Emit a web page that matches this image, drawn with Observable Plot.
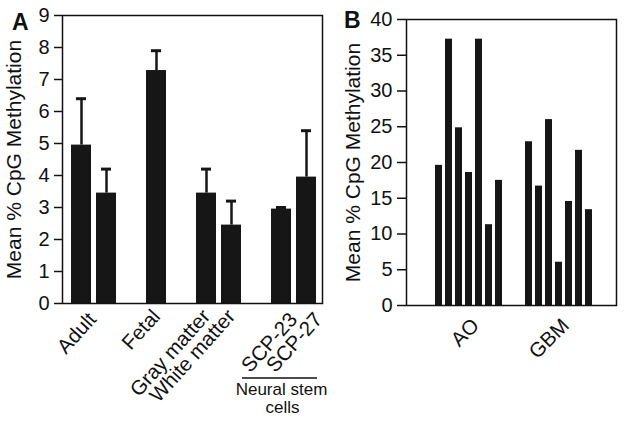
<!DOCTYPE html>
<html><head><meta charset="utf-8">
<script src="https://cdn.jsdelivr.net/npm/d3@7"></script>
<script src="https://cdn.jsdelivr.net/npm/@observablehq/plot@0.6"></script>
<style>
body{margin:0;background:#fff;}
#wrap{position:relative;width:624px;height:424px;font-family:"Liberation Sans",Arial,Helvetica,sans-serif;}
#a{position:absolute;left:0;top:0;}
#b{position:absolute;left:330px;top:0;}
</style></head><body><div id="wrap"><div id="a"></div><div id="b"></div></div>
<script>
// ---- Panel A data ----
const slotsA = ["Adult-1","Adult-2","gap1","Fetal","gap2","Gray matter","White matter","gap3","SCP-23","SCP-27"];
const barKeysA = ["Adult-1","Adult-2","Fetal","Gray matter","White matter","SCP-23","SCP-27"];
const meansA = [4.95, 3.45, 7.28, 3.45, 2.45, 2.95, 3.95];
const errTopsA = [6.4, 4.2, 7.9, 4.2, 3.2, 3.0, 5.4];
const yTicksA = [0,1,2,3,4,5,6,7,8,9];
const labelsA = ["Adult","Fetal","Gray matter","White matter"];
const labelKeysA = ["Adult-1","Fetal","Gray matter","White matter"];
const labelsSCP = ["SCP-23","SCP-27"];
const groupNoteA = ["Neural stem", "cells"];

// ---- Panel B data ----
const aoKeys = ["AO-1","AO-2","AO-3","AO-4","AO-5","AO-6","AO-7"];
const gbmKeys = ["GBM-1","GBM-2","GBM-3","GBM-4","GBM-5","GBM-6","GBM-7"];
const aoValues = [19.6, 37.25, 24.85, 18.6, 37.25, 11.3, 17.5];
const gbmValues = [22.9, 16.7, 26.0, 6.05, 14.55, 21.7, 13.4];
const slotsB = [...aoKeys, "gapB1", "gapB2", ...gbmKeys];
const yTicksB = [0,5,10,15,20,25,30,35,40];
const groupLabelsB = ["AO","GBM"];
const groupKeysB = ["AO-4","GBM-4"];

const yLabel = "Mean % CpG Methylation";
const FONT = '"Liberation Sans", Arial, Helvetica, sans-serif';
const BAR = "#161616";
const LABEL_SIZE = 20.5;

const dataA = barKeysA.map((k,i)=>({k, v: meansA[i], e: errTopsA[i]}));
const rot = {rotate: -48, textAnchor: "end", lineAnchor: "top", fontSize: LABEL_SIZE, fill: "#111"};

const plotA = Plot.plot({
  width: 330, height: 424,
  marginLeft: 62, marginRight: 8, marginTop: 15, marginBottom: 121,
  style: {fontFamily: FONT, fontSize: "20px", color: "#111", background: "#fff", overflow: "visible"},
  x: {type: "band", domain: slotsA, paddingInner: 0.22, paddingOuter: 0.31, align: 0.58, axis: null},
  y: {domain: [0, 9]},
  marks: [
    Plot.barY(dataA, {x: "k", y: "v", fill: BAR}),
    Plot.ruleX(dataA, {x: "k", y1: "v", y2: "e", stroke: BAR, strokeWidth: 2.5}),
    Plot.tickY(dataA, {x: "k", y: "e", stroke: BAR, strokeWidth: 3, insetLeft: 5, insetRight: 5}),
    Plot.frame({stroke: "#111", strokeWidth: 1.5}),
    Plot.axisY({ticks: yTicksA, tickSize: 8, tickPadding: 5, strokeWidth: 1.5, fontSize: 20,
      label: null}),
    Plot.axisY({ticks: [], tickSize: 0, fontSize: 21,
      label: yLabel, labelAnchor: "center", labelArrow: "none", labelOffset: 56}),
    Plot.text(labelsA.slice(0,1), {x: labelKeysA.slice(0,1), y: [0], text: d=>d, ...rot, dx: 5, dy: 7}),
    Plot.text(labelsA.slice(1), {x: labelKeysA.slice(1), y: [0,0,0], text: d=>d, ...rot, dx: -6, dy: 4}),
    Plot.text(labelsSCP, {x: labelsSCP, y: [0,0], text: d=>d, ...rot, dx: 6, dy: 7})
  ]
});
document.getElementById("a").appendChild(plotA);

// annotation: bracket line + "Neural stem cells"
{
  const xs = plotA.scale("x");
  const bw = xs.bandwidth;
  const left = xs.apply("SCP-23") - 29;
  const right = xs.apply("SCP-27") + bw + 1;
  const mid = (left + right) / 2;
  const svg = d3.select(plotA);
  svg.append("line").attr("x1", left).attr("x2", right).attr("y1", 378).attr("y2", 378)
    .attr("stroke", "#111").attr("stroke-width", 1.5);
  svg.append("text").attr("x", mid + 2).attr("y", 395).attr("text-anchor", "middle")
    .attr("font-size", 17).attr("fill", "#111").text(groupNoteA[0]);
  svg.append("text").attr("x", mid + 3).attr("y", 413).attr("text-anchor", "middle")
    .attr("font-size", 17).attr("fill", "#111").text(groupNoteA[1]);
  svg.append("text").attr("x", 12).attr("y", 30).attr("font-size", 23).attr("font-weight", "bold")
    .attr("text-anchor", "start").attr("fill", "#111").text("A");
}

const dataB = [
  ...aoKeys.map((k,i)=>({k, v: aoValues[i]})),
  ...gbmKeys.map((k,i)=>({k, v: gbmValues[i]}))
];

const plotB = Plot.plot({
  width: 294, height: 424,
  marginLeft: 76, marginRight: 8, marginTop: 19, marginBottom: 119,
  style: {fontFamily: FONT, fontSize: "20px", color: "#111", background: "#fff", overflow: "visible"},
  x: {type: "band", domain: slotsB, paddingInner: 0.28, paddingOuter: 2.43, align: 0.55, axis: null},
  y: {domain: [0, 40]},
  marks: [
    Plot.barY(dataB, {x: "k", y: "v", fill: BAR}),
    Plot.frame({stroke: "#111", strokeWidth: 1.5}),
    Plot.axisY({ticks: yTicksB, tickSize: 9, tickPadding: 5, strokeWidth: 1.5, fontSize: 20,
      label: null}),
    Plot.axisY({ticks: [], tickSize: 0, fontSize: 21,
      label: yLabel, labelAnchor: "center", labelArrow: "none", labelOffset: 61}),
    Plot.text(groupLabelsB, {x: groupKeysB, y: [0,0], text: d=>d, ...rot, rotate: -45, dx: 1, dy: 11})
  ]
});
document.getElementById("b").appendChild(plotB);
d3.select(plotB).append("text").attr("x", 14).attr("y", 28).attr("font-size", 23).attr("font-weight", "bold")
  .attr("text-anchor", "start").attr("fill", "#111").text("B");
</script>
</body></html>
